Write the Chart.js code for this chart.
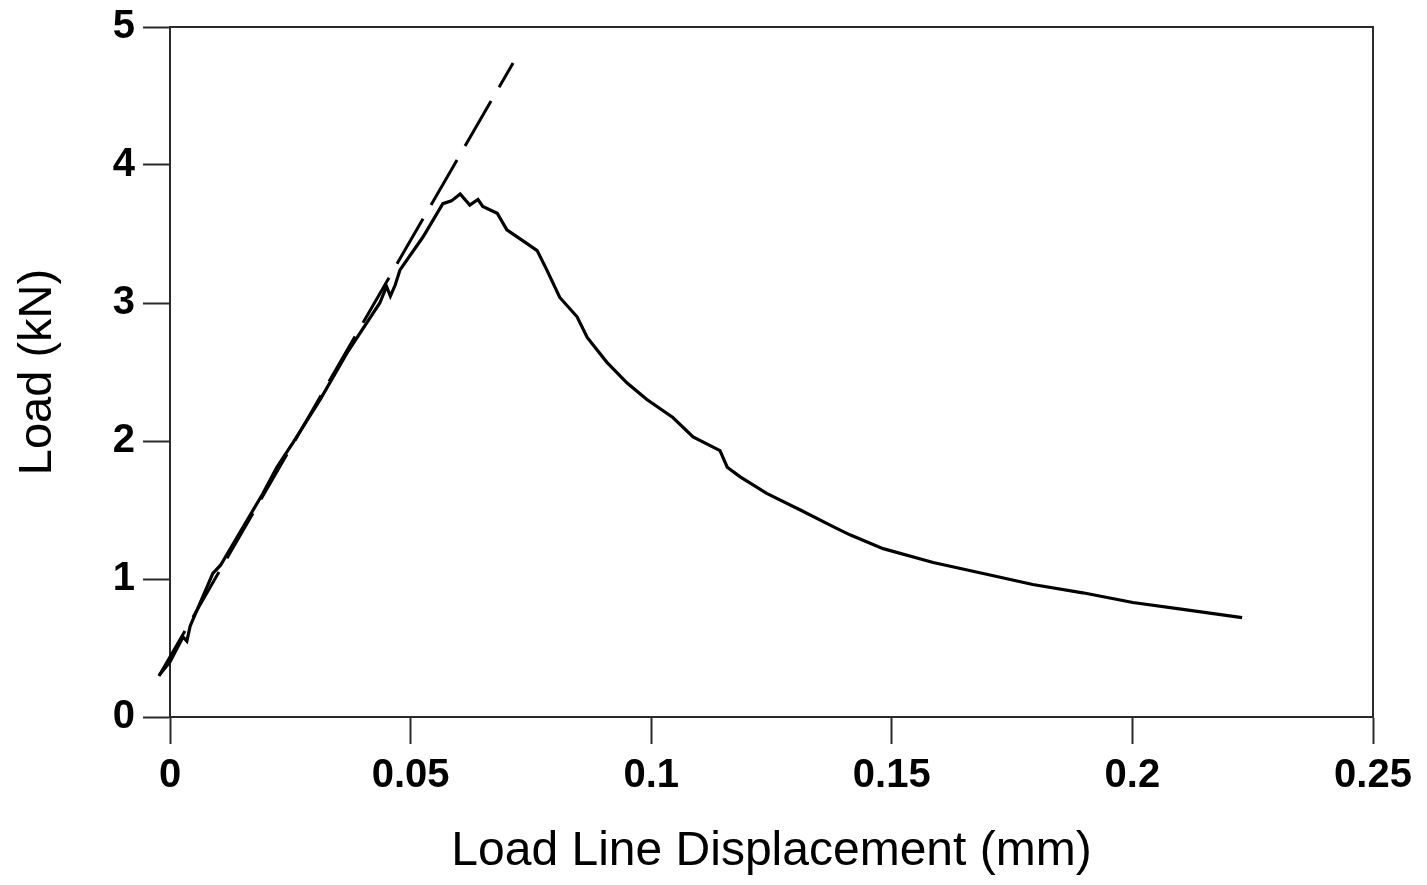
<!DOCTYPE html>
<html>
<head>
<meta charset="utf-8">
<script src="https://cdn.jsdelivr.net/npm/chart.js@4.4.1/dist/chart.umd.min.js"></script>
<style>
  html, body { margin: 0; padding: 0; background: #fff; }
  #wrap { width: 1427px; height: 885px; }
</style>
</head>
<body>
<div id="wrap"><canvas id="grafico"></canvas></div>
<script>
// measured curve (displacement mm, load kN)
var dispX = [-0.0023, 0.0, 0.0027, 0.0035, 0.0042, 0.0089, 0.0105, 0.0139, 0.0193, 0.0222,
  0.0256, 0.0312, 0.037, 0.0436, 0.045, 0.0458, 0.0468, 0.0478, 0.0526, 0.0567,
  0.0585, 0.0603, 0.0623, 0.064, 0.065, 0.068, 0.070, 0.0742, 0.0763, 0.0783,
  0.081, 0.0846, 0.0867, 0.0908, 0.095, 0.0991, 0.1045, 0.1087, 0.1143, 0.1158,
  0.1185, 0.124, 0.131, 0.1378, 0.1413, 0.1482, 0.1586, 0.169, 0.1793, 0.1897,
  0.2001, 0.2105, 0.2228];
var loadY = [0.30, 0.40, 0.58, 0.55, 0.66, 1.04, 1.10, 1.30, 1.62, 1.81,
  1.99, 2.30, 2.65, 3.00, 3.12, 3.05, 3.13, 3.24, 3.48, 3.72,
  3.74, 3.79, 3.71, 3.75, 3.70, 3.65, 3.53, 3.43, 3.38, 3.24,
  3.04, 2.90, 2.75, 2.57, 2.42, 2.30, 2.17, 2.03, 1.93, 1.81,
  1.74, 1.62, 1.50, 1.38, 1.32, 1.22, 1.12, 1.04, 0.96, 0.90,
  0.83, 0.78, 0.72];

// linear elastic fit (dashed)
var fitX = [-0.0023, 0.0713];
var fitY = [0.297, 4.74];

var xTicks = [0, 0.05, 0.1, 0.15, 0.2, 0.25];
var xTickLabels = ['0', '0.05', '0.1', '0.15', '0.2', '0.25'];
var yTicks = [0, 1, 2, 3, 4, 5];
var yTickLabels = ['0', '1', '2', '3', '4', '5'];

function puntos(xs, ys) {
  return xs.map(function (x, i) { return { x: x, y: ys[i] }; });
}

var fuente = '"Liberation Sans", Arial, Helvetica, sans-serif';
var ejeColor = '#2a2a2a';

// draws top and right edge of the box
var marco = {
  id: 'marco',
  afterDraw: function (chart) {
    var a = chart.chartArea;
    var c = chart.ctx;
    c.save();
    c.strokeStyle = ejeColor;
    c.lineWidth = 2;
    c.beginPath();
    c.moveTo(a.left, a.top);
    c.lineTo(a.right, a.top);
    c.lineTo(a.right, a.bottom);
    c.stroke();
    c.restore();
  }
};

var ctx = document.getElementById('grafico');
var mychart = new Chart(ctx, {
  type: 'scatter',
  data: {
    datasets: [
      {
        label: 'Measured',
        data: puntos(dispX, loadY),
        showLine: true,
        borderColor: '#000',
        borderWidth: 3.2,
        pointRadius: 0,
        tension: 0,
        clip: false
      },
      {
        label: 'Linear fit',
        data: puntos(fitX, fitY),
        showLine: true,
        borderColor: '#000',
        borderWidth: 3,
        borderDash: [52, 16],
        pointRadius: 0,
        clip: false
      }
    ]
  },
  options: {
    responsive: true,
    maintainAspectRatio: false,
    animation: false,
    layout: { padding: { top: 27, right: 54, left: 0, bottom: 0 } },
    plugins: {
      legend: { display: false },
      tooltip: { enabled: false }
    },
    scales: {
      x: {
        type: 'linear',
        min: 0,
        max: 0.25,
        afterBuildTicks: function (s) { s.ticks = xTicks.map(function (v) { return { value: v }; }); },
        afterFit: function (s) { s.height = 168; },
        ticks: {
          color: '#000',
          padding: 8,
          font: { family: fuente, size: 40, weight: 'bold' },
          callback: function (v) { return xTickLabels[xTicks.indexOf(v)]; }
        },
        grid: { drawOnChartArea: false, tickLength: 27, tickWidth: 2, tickColor: ejeColor },
        border: { display: true, color: ejeColor, width: 2 },
        title: {
          display: true,
          text: 'Load Line Displacement (mm)',
          color: '#000',
          font: { family: fuente, size: 48 },
          padding: { top: 34 }
        }
      },
      y: {
        type: 'linear',
        min: 0,
        max: 5,
        afterBuildTicks: function (s) { s.ticks = yTicks.map(function (v) { return { value: v }; }); },
        afterFit: function (s) { s.width = 170; s.paddingTop = 0; },
        ticks: {
          color: '#000',
          padding: 8,
          font: { family: fuente, size: 40, weight: 'bold' },
          callback: function (v) { return yTickLabels[yTicks.indexOf(v)]; }
        },
        grid: { drawOnChartArea: false, tickLength: 27, tickWidth: 2, tickColor: ejeColor },
        border: { display: true, color: ejeColor, width: 2 },
        title: {
          display: true,
          text: 'Load (kN)',
          color: '#000',
          font: { family: fuente, size: 47 },
          padding: { top: 10, bottom: 0 }
        }
      }
    }
  },
  plugins: [marco]
});
</script>
</body>
</html>
